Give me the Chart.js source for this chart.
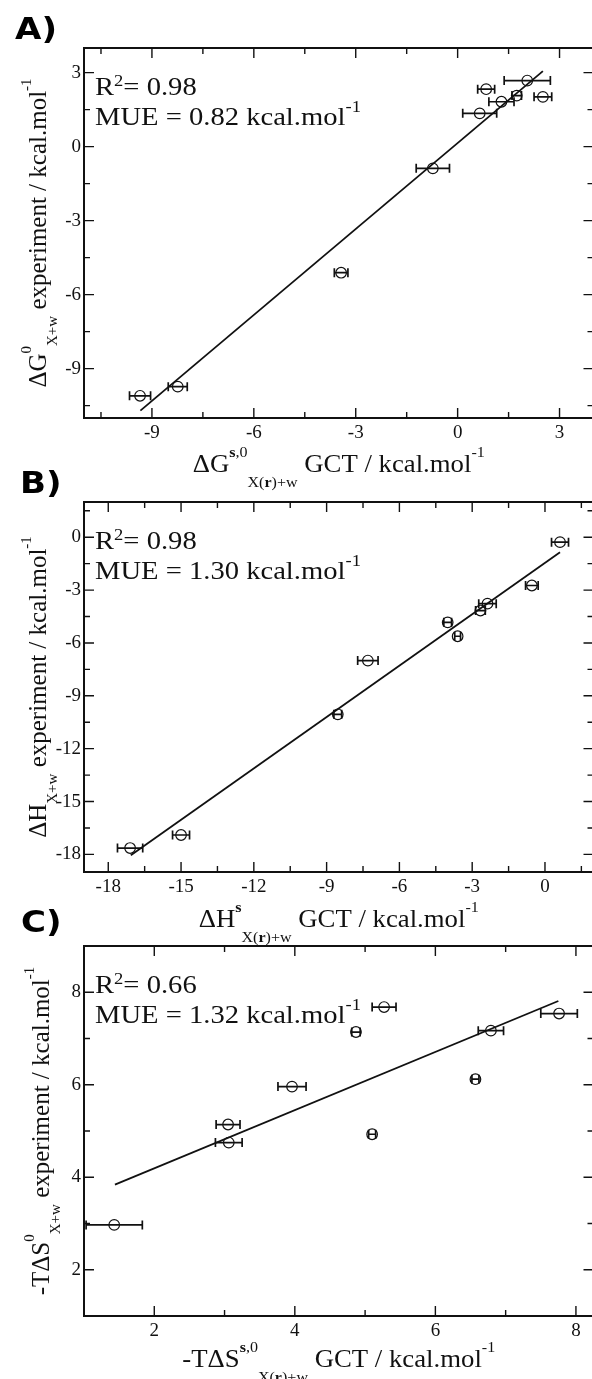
<!DOCTYPE html>
<html>
<head>
<meta charset="utf-8">
<script src="https://cdn.jsdelivr.net/npm/chart.js@4.4.0/dist/chart.umd.min.js"></script>
<style>
html, body { margin: 0; padding: 0; background: #fff; overflow: hidden; }
body { width: 592px; height: 1379px; position: relative; }
canvas { position: absolute; left: 0; }
</style>
</head>
<body>
<canvas id="chartA" width="600" height="500" style="top:0px"></canvas>
<canvas id="chartB" width="600" height="500" style="top:454px"></canvas>
<canvas id="chartC" width="600" height="500" style="top:898px"></canvas>
<script>
// A) dG  (GCT on x, experiment on y, horizontal error on GCT)
const gX   = [2.05, 0.84, 1.74, 1.29, 2.51, 0.65, -0.73, -3.43, -8.24, -9.35];
const gY   = [2.68, 2.33, 2.07, 1.82, 2.02, 1.35, -0.88, -5.11, -9.73, -10.10];
const gErr = [0.68, 0.25, 0.14, 0.37, 0.26, 0.50, 0.49, 0.20, 0.28, 0.31];
const gFit = [-9.34, -10.70, 2.51, 3.06];
const gTicks = [-9, -6, -3, 0, 3];
const gMinor = [-10.5, -7.5, -4.5, -1.5, 1.5];

// B) dH
const hX   = [0.62, -0.54, -2.37, -2.66, -4.01, -3.60, -7.30, -8.54, -15.0, -17.1];
const hY   = [-0.28, -2.74, -3.77, -4.16, -4.83, -5.62, -7.00, -10.05, -16.9, -17.64];
const hErr = [0.35, 0.26, 0.36, 0.20, 0.16, 0.12, 0.42, 0.16, 0.35, 0.52];
const hFit = [-17.07, -18.05, 0.62, -0.85];
const hTicks = [-18, -15, -12, -9, -6, -3, 0];
const hMinor = [-16.5, -13.5, -10.5, -7.5, -4.5, -1.5, 1.5];

// C) -TdS
const sX   = [5.27, 4.87, 7.76, 6.79, 6.57, 3.96, 3.05, 3.06, 5.10, 1.43];
const sY   = [7.68, 7.14, 7.54, 7.17, 6.12, 5.96, 5.14, 4.75, 4.93, 2.97];
const sErr = [0.17, 0.06, 0.26, 0.18, 0.05, 0.20, 0.17, 0.19, 0.05, 0.40];
const sFit = [1.44, 3.84, 7.75, 7.81];
const sTicks = [2, 4, 6, 8];
const sMinor = [3, 5, 7];

const SERIF = '"Liberation Serif", "Times New Roman", serif';
const INK = '#111';

// rich text pieces
const T = (t, b) => ({ t: t, k: 1, dy: 0, b: b });
const SUP = (t, b) => ({ t: t, k: 0.6, dy: -0.62, b: b });
const SUB = (t, b) => ({ t: t, k: 0.6, dy: 0.6, b: b });
const YSUB = (t) => ({ t: t, k: 0.6, dy: 0.45 });

function fontOf(s, size) {
    return (s.b ? 'bold ' : '') + (size * s.k).toFixed(1) + 'px ' + SERIF;
}

function drawRich(ctx, segs, x, y, size, align, sx, rot) {
    ctx.save();
    ctx.translate(x, y);
    if (rot) ctx.rotate(rot);
    ctx.scale(sx, 1);
    ctx.fillStyle = INK;
    ctx.textAlign = 'left';
    ctx.textBaseline = 'alphabetic';
    let w = 0;
    segs.forEach(s => { ctx.font = fontOf(s, size); w += ctx.measureText(s.t).width; });
    let cx = align === 'center' ? -w / 2 : 0;
    segs.forEach(s => {
        ctx.font = fontOf(s, size);
        ctx.fillText(s.t, cx, s.dy * size);
        cx += ctx.measureText(s.t).width;
    });
    ctx.restore();
}

const panels = {
    chartA: {
        xs: gX, ys: gY, errs: gErr, fit: gFit, xr: [-11, 4], yr: [-11, 4],
        xMajor: gTicks, xMinor: gMinor, yMajor: gTicks, yMinor: gMinor,
        letter: 'A)', letterX: 15, letterY: 39,
        r2: '= 0.98', mue: 'MUE = 0.82 kcal.mol',
        xTitle: [T('ΔG'), SUP('s', true), SUP(',0'), SUB('X('), SUB('r', true), SUB(')+w'), T(' GCT / kcal.mol'), SUP('-1')],
        xTitleY: 472,
        yTitle: [T('ΔG'), SUP('0'), YSUB('X+w'), T(' experiment / kcal.mol'), SUP('-1')],
        yTitleX: 46
    },
    chartB: {
        xs: hX, ys: hY, errs: hErr, fit: hFit, xr: [-19, 2], yr: [-19, 2],
        xMajor: hTicks, xMinor: hMinor, yMajor: hTicks, yMinor: hMinor,
        letter: 'B)', letterX: 20, letterY: 39,
        r2: '= 0.98', mue: 'MUE = 1.30 kcal.mol',
        xTitle: [T('ΔH'), SUP('s', true), SUB('X('), SUB('r', true), SUB(')+w'), T(' GCT / kcal.mol'), SUP('-1')],
        xTitleY: 473,
        yTitle: [T('ΔH'), YSUB('X+w'), T(' experiment / kcal.mol'), SUP('-1')],
        yTitleX: 46
    },
    chartC: {
        xs: sX, ys: sY, errs: sErr, fit: sFit, xr: [1, 8.25], yr: [1, 9],
        xMajor: sTicks, xMinor: sMinor, yMajor: sTicks, yMinor: sMinor,
        letter: 'C)', letterX: 21, letterY: 34,
        r2: '= 0.66', mue: 'MUE = 1.32 kcal.mol',
        xTitle: [T('-TΔS'), SUP('s', true), SUP(',0'), SUB('X('), SUB('r', true), SUB(')+w'), T(' GCT / kcal.mol'), SUP('-1')],
        xTitleY: 469,
        yTitle: [T('-TΔS'), SUP('0'), YSUB('X+w'), T(' experiment / kcal.mol'), SUP('-1')],
        yTitleX: 49
    }
};

const framePlugin = {
    id: 'frame',
    beforeDatasetsDraw(chart) {
        const p = panels[chart.canvas.id];
        const ctx = chart.ctx, a = chart.chartArea;
        const xs = chart.scales.x, ys = chart.scales.y;
        ctx.save();
        ctx.beginPath();
        ctx.rect(a.left, a.top, a.right - a.left, a.bottom - a.top);
        ctx.clip();
        ctx.strokeStyle = INK;
        ctx.lineWidth = 1.7;
        p.xs.forEach((v, i) => {
            const py = ys.getPixelForValue(p.ys[i]);
            const x0 = xs.getPixelForValue(v - p.errs[i]);
            const x1 = xs.getPixelForValue(v + p.errs[i]);
            ctx.beginPath();
            ctx.moveTo(x0, py); ctx.lineTo(x1, py);
            ctx.moveTo(x0, py - 4.5); ctx.lineTo(x0, py + 4.5);
            ctx.moveTo(x1, py - 4.5); ctx.lineTo(x1, py + 4.5);
            ctx.stroke();
        });
        ctx.restore();
    },
    afterDraw(chart) {
        const p = panels[chart.canvas.id];
        const ctx = chart.ctx, a = chart.chartArea;
        const xs = chart.scales.x, ys = chart.scales.y;
        ctx.save();
        ctx.strokeStyle = INK;
        ctx.lineWidth = 2;
        ctx.strokeRect(a.left, a.top, a.right - a.left, a.bottom - a.top);
        ctx.lineWidth = 1.4;
        ctx.beginPath();
        const tick = (vals, len) => {
            vals.forEach(v => {
                const px = xs.getPixelForValue(v);
                ctx.moveTo(px, a.bottom); ctx.lineTo(px, a.bottom - len);
                ctx.moveTo(px, a.top); ctx.lineTo(px, a.top + len);
            });
        };
        const tickY = (vals, len) => {
            vals.forEach(v => {
                const py = ys.getPixelForValue(v);
                ctx.moveTo(a.left, py); ctx.lineTo(a.left + len, py);
                ctx.moveTo(a.right, py); ctx.lineTo(a.right - len, py);
            });
        };
        tick(p.xMajor, 10); tick(p.xMinor, 6);
        tickY(p.yMajor, 10); tickY(p.yMinor, 6);
        ctx.stroke();
        ctx.restore();

        // annotation
        drawRich(ctx, [T('R'), { t: '2', k: 0.65, dy: -0.33 }, T(p.r2)], 95, a.top + 47, 26, 'left', 1.1);
        drawRich(ctx, [T(p.mue), { t: '-1', k: 0.65, dy: -0.5 }], 95, a.top + 77, 26, 'left', 1.1);

        // axis titles
        drawRich(ctx, p.xTitle, (a.left + a.right) / 2, p.xTitleY, 25, 'center', 1.07);
        drawRich(ctx, p.yTitle, p.yTitleX, (a.top + a.bottom) / 2, 25, 'center', 1, -Math.PI / 2);

        // panel letter
        ctx.save();
        ctx.translate(p.letterX, p.letterY);
        ctx.scale(1.1, 1);
        ctx.font = 'bold 31px "DejaVu Sans", sans-serif';
        ctx.fillStyle = '#000';
        ctx.textBaseline = 'alphabetic';
        ctx.fillText(p.letter, 0, 0);
        ctx.restore();
    }
};

function makeChart(id) {
    const p = panels[id];
    const pts = p.xs.map((v, i) => ({ x: v, y: p.ys[i] }));
    const fitPts = [{ x: p.fit[0], y: p.fit[1] }, { x: p.fit[2], y: p.fit[3] }];
    const tickFont = { family: SERIF, size: 19 };
    new Chart(document.getElementById(id).getContext('2d'), {
        type: 'scatter',
        data: {
            datasets: [{
                data: pts,
                pointStyle: 'circle',
                pointRadius: 5.3,
                borderColor: INK,
                backgroundColor: 'rgba(0,0,0,0)',
                borderWidth: 1.2
            }, {
                data: fitPts,
                showLine: true,
                pointRadius: 0,
                borderColor: INK,
                borderWidth: 1.8,
                fill: false
            }]
        },
        plugins: [framePlugin],
        options: {
            responsive: false,
            animation: false,
            events: [],
            layout: { padding: { top: 48, right: 3, left: 0, bottom: 0 } },
            plugins: { legend: { display: false }, tooltip: { enabled: false } },
            scales: {
                x: {
                    type: 'linear', min: p.xr[0], max: p.xr[1],
                    afterBuildTicks: s => { s.ticks = p.xMajor.map(v => ({ value: v })); },
                    afterFit: s => { s.height = 82; },
                    grid: { display: false, drawTicks: false },
                    border: { display: false },
                    ticks: { font: tickFont, color: INK, padding: 4, maxRotation: 0, autoSkip: false,
                             callback: v => String(v) }
                },
                y: {
                    type: 'linear', min: p.yr[0], max: p.yr[1],
                    afterBuildTicks: s => { s.ticks = p.yMajor.map(v => ({ value: v })); },
                    afterFit: s => { s.width = 84; },
                    grid: { display: false, drawTicks: false },
                    border: { display: false },
                    ticks: { font: tickFont, color: INK, padding: 3, autoSkip: false,
                             callback: v => String(v) }
                }
            }
        }
    });
}

window.addEventListener('DOMContentLoaded', function () {
    makeChart('chartA');
    makeChart('chartB');
    makeChart('chartC');
});
</script>
</body>
</html>
